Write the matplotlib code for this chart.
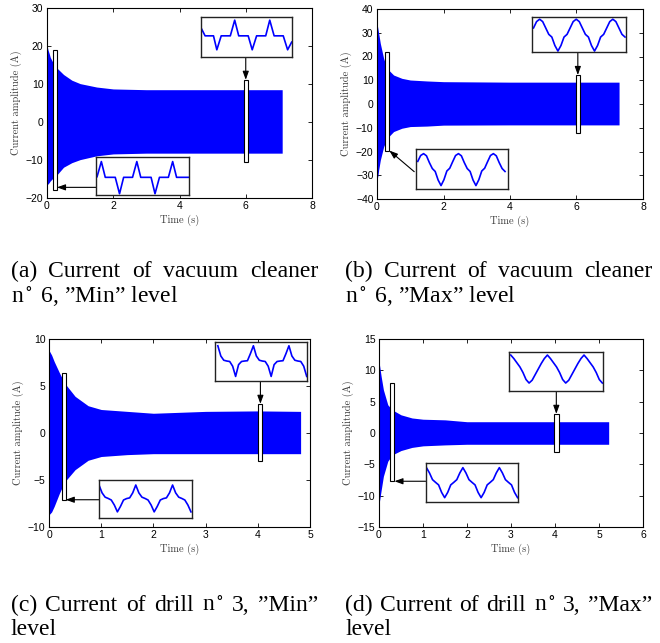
import numpy as np
import matplotlib
matplotlib.use("Agg")
import matplotlib.pyplot as plt
from matplotlib.patches import Rectangle

# ---------------- data ----------------
# current envelopes (upper / lower peak values, A) read from the recordings
t_a = [0, 0.005, 0.03, 0.06, 0.1, 0.2, 0.3, 0.5, 0.75, 1.0, 1.5, 2.0, 3.0, 5.0, 7.1]
up_a = [27.0, 20.0, 19.0, 18.2, 17.0, 15.3, 14.2, 12.5, 11.0, 10.1, 9.2, 8.7, 8.5, 8.5, 8.5]
lo_a = [-16.5, -16.5, -16.3, -16.0, -15.5, -14.6, -13.9, -11.9, -10.7, -9.9, -8.9, -8.4, -8.2, -8.2, -8.2]

t_b = [0, 0.03, 0.05, 0.1, 0.2, 0.3, 0.5, 0.75, 1.0, 1.5, 2.0, 4.0, 7.28]
up_b = [34.0, 31.5, 29.8, 25.5, 19.2, 15.0, 12.2, 10.8, 10.1, 9.7, 9.4, 9.2, 9.2]
lo_b = [-32.0, -30.0, -27.8, -23.6, -18.0, -14.5, -11.6, -10.2, -9.5, -9.3, -8.9, -8.8, -8.8]

t_c = [0, 0.05, 0.1, 0.2, 0.3, 0.5, 0.75, 1.0, 1.5, 2.0, 3.0, 4.0, 4.82]
up_c = [8.8, 8.3, 7.6, 6.4, 5.3, 3.9, 2.9, 2.5, 2.3, 2.1, 2.3, 2.35, 2.3]
lo_c = [-8.7, -8.4, -7.8, -6.4, -5.2, -3.9, -2.9, -2.5, -2.3, -2.2, -2.2, -2.2, -2.2]

t_d = [0, 0.05, 0.1, 0.2, 0.3, 0.5, 0.75, 1.0, 1.5, 2.0, 5.22]
up_d = [11.4, 9.0, 6.9, 4.5, 3.7, 2.9, 2.4, 2.2, 2.1, 1.8, 1.8]
lo_d = [-11.4, -9.1, -6.9, -4.5, -3.5, -2.8, -2.3, -2.05, -1.9, -1.8, -1.8]

# zoomed waveforms (normalised current, x in periods)
a_top_x = [-0.94, -0.845, -0.605, -0.51, -0.385, -0.125, 0.0, 0.115, 0.385, 0.5, 0.625,
           0.885, 1.0, 1.125, 1.385, 1.51, 1.625]
a_top_y = [0.42, 0.0, 0.0, -0.89, 0.0, 0.0, 1.0, 0.0, 0.0, -0.89, 0.0, 0.0, 1.0, 0.0, 0.0,
           -0.89, -0.4]
a_bot_x = [-0.12, 0.0, 0.11, 0.39, 0.51, 0.625, 0.875, 0.995, 1.105, 1.395, 1.505, 1.63,
           1.88, 2.0, 2.11, 2.435]
a_bot_y = [0.04, 1.0, 0.0, 0.0, -1.04, 0.0, 0.0, 1.0, 0.0, 0.0, -1.04, 0.0, 0.0, 1.0, 0.0, 0.0]

# sampled every 1/12 period
b_top_y = [0.45, 0.85, 1.0, 0.85, 0.45, 0.05, -0.12, -0.65, -1.0, -0.65, -0.12, 0.05,
           0.45, 0.85, 1.0, 0.85, 0.45, 0.05, -0.12, -0.65, -1.0, -0.65, -0.12, 0.05,
           0.45, 0.85, 1.0, 0.85, 0.45, 0.05, -0.12]
b_bot_y = [0.5, 0.88, 1.0, 0.86, 0.42, 0.04, -0.15, -0.7, -1.06, -0.68, -0.12, 0.06,
           0.48, 0.88, 1.0, 0.86, 0.42, 0.04, -0.15, -0.7, -1.06, -0.68, -0.12, 0.06,
           0.48, 0.88, 1.0, 0.86, 0.42, 0.04, -0.15]
c_top_y = [1.0, 0.35, 0.08, 0.03, 0.0, -0.3, -0.95, -0.2, 0.0, 0.03, 0.05, 0.5,
           1.0, 0.35, 0.08, 0.03, 0.0, -0.3, -0.95, -0.2, 0.0, 0.03, 0.05, 0.5,
           1.0, 0.35, 0.08, 0.03, 0.0, -0.3, -0.95]
c_bot_y = [1.0, 0.45, 0.15, 0.06, -0.05, -0.4, -0.88, -0.5, -0.05, 0.05, 0.1, 0.45,
           1.0, 0.45, 0.15, 0.06, -0.05, -0.4, -0.88, -0.5, -0.05, 0.05, 0.1, 0.45,
           1.0, 0.45, 0.15, 0.06, -0.05, -0.4, -0.88]
d_top_y = [1.0, 0.75, 0.45, 0.15, -0.25, -0.75, -1.0, -0.8, -0.4, 0.0, 0.4, 0.75,
           1.0, 0.75, 0.45, 0.15, -0.25, -0.75, -1.0, -0.8, -0.4, 0.0, 0.4, 0.75,
           1.0, 0.75, 0.45, 0.15, -0.25, -0.75, -1.0]
d_bot_y = [1.0, 0.65, 0.2, 0.02, -0.15, -0.65, -1.0, -0.65, -0.15, 0.02, 0.2, 0.65,
           1.0, 0.65, 0.2, 0.02, -0.15, -0.65, -1.0, -0.65, -0.15, 0.02, 0.2, 0.65,
           1.0, 0.65, 0.2, 0.02, -0.15, -0.65, -1.0]

captions = {
    "a": ("(a) Current of vacuum cleaner", "n$^\\circ$ 6, \u201dMin\u201d level"),
    "b": ("(b) Current of vacuum cleaner", "n$^\\circ$ 6, \u201dMax\u201d level"),
    "c": ("(c) Current of drill n$^\\circ$ 3, \u201dMin\u201d", "level"),
    "d": ("(d) Current of drill n$^\\circ$ 3, \u201dMax\u201d", "level"),
}

# ---------------- layout ----------------
W, H = 660, 643
plt.rcParams["mathtext.fontset"] = "stix"
fig = plt.figure(figsize=(W / 100, H / 100), dpi=100)
BLUE = "#0000ff"


def px_axes(l, t, r, b):
    return fig.add_axes([l / W, 1 - b / H, (r - l) / W, (b - t) / H])


def sampled_x(y, k0):
    return (np.arange(len(y)) + k0) / 12.0


panels = [
    dict(box=(47, 8, 312, 198), t=t_a, up=up_a, lo=lo_a, xlim=(0, 8), xt=np.arange(0, 9, 2),
         ylim=(-20, 30), yt=np.arange(-20, 31, 10),
         rects=[(0.18, -18, 0.12, 37), (5.94, -10.4, 0.12, 21.5)],
         arrows=[((6.0, 17.3), (6.0, 11.1)), ((1.49, -17.2), (0.30, -17.2))],
         insets=[((200.7, 16.7, 292, 56.7), a_top_x, a_top_y, (-0.97, 1.635), (-1.33, 1.22)),
                 ((96, 157.3, 188.7, 195), a_bot_x, a_bot_y, (-0.15, 2.45), (-1.12, 1.27))]),
    dict(box=(377, 9, 643, 199), t=t_b, up=up_b, lo=lo_b, xlim=(0, 8), xt=np.arange(0, 9, 2),
         ylim=(-40, 40), yt=np.arange(-40, 41, 10),
         rects=[(0.23, -19.6, 0.14, 41.4), (5.98, -12.4, 0.12, 24.6)],
         arrows=[((6.04, 22), (6.04, 12.2)), ((1.12, -28.5), (0.37, -19.6))],
         insets=[((532.3, 17.3, 626, 51.7), sampled_x(b_top_y, -2), b_top_y, (-0.2, 2.36), (-1.04, 1.12)),
                 ((416, 149.3, 507.7, 189), sampled_x(b_bot_y, -2), b_bot_y, (-0.217, 2.41), (-1.28, 1.28))]),
    dict(box=(49, 339, 310, 527), t=t_c, up=up_c, lo=lo_c, xlim=(0, 5), xt=np.arange(0, 6, 1),
         ylim=(-10, 10), yt=np.arange(-10, 11, 5),
         rects=[(0.24, -7.1, 0.08, 13.45), (4.01, -3.0, 0.08, 6.1)],
         arrows=[((4.05, 5.54), (4.05, 3.1)), ((0.96, -7.1), (0.32, -7.1))],
         insets=[((215, 342.3, 306.7, 381), sampled_x(c_top_y, 0), c_top_y, (-0.08, 2.5), (-1.24, 1.22)),
                 ((99, 480, 191.7, 518.3), sampled_x(c_bot_y, 0), c_bot_y, (0.0, 2.52), (-1.33, 1.35))]),
    dict(box=(379, 339, 643, 527), t=t_d, up=up_d, lo=lo_d, xlim=(0, 6), xt=np.arange(0, 7, 1),
         ylim=(-15, 15), yt=np.arange(-15, 16, 5),
         rects=[(0.25, -7.7, 0.1, 15.6), (3.98, -3.1, 0.1, 6.15)],
         arrows=[((4.03, 6.7), (4.03, 3.05)), ((1.06, -7.7), (0.35, -7.7))],
         insets=[((509.3, 351.7, 602.7, 391), sampled_x(d_top_y, 0), d_top_y, (-0.04, 2.51), (-1.57, 1.24)),
                 ((425.7, 462.7, 518.3, 501.7), sampled_x(d_bot_y, 0), d_bot_y, (-0.02, 2.52), (-1.27, 1.33))]),
]

LABEL_FONT = dict(family="cmr10", size=7.5, color="#3a3a3a")

for p in panels:
    ax = px_axes(*p["box"])
    ax.fill_between(p["t"], p["lo"], p["up"], color=BLUE, lw=0, zorder=2)
    ax.set_xlim(*p["xlim"])
    ax.set_ylim(*p["ylim"])
    ax.set_xticks(p["xt"])
    ax.set_yticks(p["yt"])
    ax.tick_params(direction="in", length=3, width=0.6, top=True, right=True,
                   labelsize=7.5, pad=2.5)
    for lab in ax.get_xticklabels() + ax.get_yticklabels():
        lab.set_family("Liberation Sans")
    for s in ax.spines.values():
        s.set_linewidth(0.8)
    ax.set_xlabel("Time (s)", fontdict=LABEL_FONT, labelpad=2)
    ax.set_ylabel("Current amplitude (A)", fontdict=LABEL_FONT, labelpad=3)
    for (x0, y0, w, h) in p["rects"]:
        ax.add_patch(Rectangle((x0, y0), w, h, facecolor="white", edgecolor="black",
                               lw=0.8, zorder=3))
    for (src, dst) in p["arrows"]:
        ax.annotate("", xy=dst, xytext=src,
                    arrowprops=dict(arrowstyle="-|>,head_length=0.5,head_width=0.18",
                                    color="black", lw=0.8, shrinkA=0, shrinkB=0),
                    zorder=4)
    for (ibox, ix, iy, ixl, iyl) in p["insets"]:
        ia = px_axes(*ibox)
        ia.plot(ix, iy, color=BLUE, lw=1.2)
        ia.set_xlim(*ixl)
        ia.set_ylim(*iyl)
        ia.set_xticks([])
        ia.set_yticks([])
        for s in ia.spines.values():
            s.set_linewidth(1.0)
            s.set_color("#222222")

# ---------------- captions (first line justified) ----------------
CAP = dict(family="Liberation Serif", size=17, color="black")
renderer = fig.canvas.get_renderer()


def justified(text, x0, x1, ybase):
    words = text.split(" ")
    arts = [fig.text(0, 1 - ybase / H, w, va="baseline", ha="left", **CAP) for w in words]
    widths = [a.get_window_extent(renderer).width for a in arts]
    gap = (x1 - x0 - sum(widths)) / (len(words) - 1)
    x = x0
    for a, w in zip(arts, widths):
        a.set_x(x / W)
        x += w + gap


cols = {"a": (10.6, 318, 277, 302), "b": (345, 652, 277, 302),
        "c": (10.6, 318, 611, 635), "d": (345, 652, 611, 635)}
for key, (l1, l2) in captions.items():
    x0, x1, y1, y2 = cols[key]
    justified(l1, x0, x1, y1)
    fig.text(x0 / W, 1 - y2 / H, l2, va="baseline", ha="left", **CAP)

fig.savefig("out.png", dpi=100)
